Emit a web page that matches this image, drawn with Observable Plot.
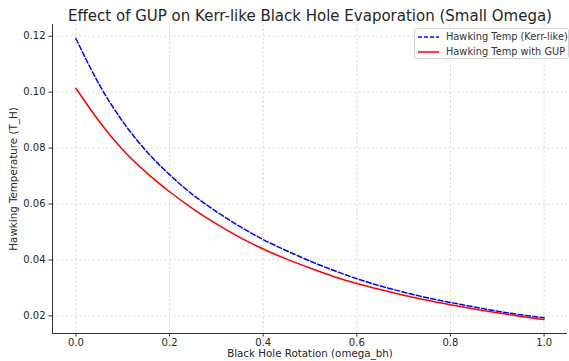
<!DOCTYPE html>
<html>
<head>
<meta charset="utf-8">
<script src="https://cdn.jsdelivr.net/npm/d3@7"></script>
<script src="https://cdn.jsdelivr.net/npm/@observablehq/plot@0.6"></script>
<style>
  html, body { margin: 0; padding: 0; background: white; }
  #wrap { position: relative; width: 569px; height: 361px; overflow: hidden; }
  #legend { position: absolute; left: 414px; top: 28px; width: 153px; height: 29px;
    border: 1px solid #d3d3d3; border-radius: 3px; background: rgba(255,255,255,0.85);
    font-family: "DejaVu Sans"; font-size: 9.8px; color: #333; }
  .row { position: absolute; left: 3px; height: 13px; display: flex; align-items: center; white-space: nowrap; }
  .row svg { margin-right: 7px; }
</style>
</head>
<body>
<div id="wrap"></div>
<script>
const titleText = "Effect of GUP on Kerr-like Black Hole Evaporation (Small Omega)";
const xLabel = "Black Hole Rotation (omega_bh)";
const yLabel = "Hawking Temperature (T_H)";
const seriesNames = ["Hawking Temp (Kerr-like)", "Hawking Temp with GUP"];
const seriesColors = ["#0000ff", "#ff0000"];

const omega = [0, 0.05, 0.1, 0.15, 0.2, 0.25, 0.3, 0.35, 0.4, 0.45, 0.5, 0.55, 0.6, 0.65, 0.7, 0.75, 0.8, 0.85, 0.9, 0.95, 1.0];
const tKerr = [0.1192, 0.1027, 0.0895, 0.0790, 0.0705, 0.0633, 0.0573, 0.0520, 0.0473, 0.0433, 0.0396, 0.0363, 0.0333, 0.0307, 0.0285, 0.0265, 0.0248, 0.0232, 0.0217, 0.0204, 0.0193];
const tGup  = [0.1014, 0.0895, 0.0794, 0.0713, 0.0644, 0.0583, 0.0529, 0.0481, 0.0439, 0.0403, 0.0371, 0.0341, 0.0316, 0.0294, 0.0274, 0.0256, 0.0240, 0.0225, 0.0211, 0.0198, 0.0187];

const xTicks = [0, 0.2, 0.4, 0.6, 0.8, 1.0];
const yTicks = [0.02, 0.04, 0.06, 0.08, 0.10, 0.12];
const xDomain = [-0.05, 1.05];
const yDomain = [0.0137, 0.1242];

const kerrData = omega.map((w, i) => ({w, t: tKerr[i]}));
const gupData = omega.map((w, i) => ({w, t: tGup[i]}));

const gridStyle = {stroke: "#c8c8c8", strokeOpacity: 0.8, strokeWidth: 0.8, strokeDasharray: "2.5,2"};

const chart = Plot.plot({
  width: 569,
  height: 361,
  marginTop: 24,
  marginBottom: 28,
  marginLeft: 52,
  marginRight: 2,
  style: {fontFamily: "DejaVu Sans", fontSize: "10px", color: "#262626", background: "white"},
  x: {domain: xDomain},
  y: {domain: yDomain},
  marks: [
    Plot.gridX(xTicks, gridStyle),
    Plot.gridY(yTicks, gridStyle),
    Plot.axisX(xTicks, {tickSize: 3.5, tickPadding: 1.5, tickFormat: d3.format(".1f"), label: null, fontSize: 10, stroke: "#333"}),
    Plot.axisY(yTicks, {tickSize: 3.5, tickPadding: 3.5, tickFormat: d3.format(".2f"), label: null, fontSize: 10, stroke: "#333"}),
    Plot.ruleX([xDomain[0]], {stroke: "#333", strokeWidth: 1}),
    Plot.ruleY([yDomain[0]], {stroke: "#333", strokeWidth: 1}),
    Plot.line(kerrData, {x: "w", y: "t", stroke: seriesColors[0], strokeWidth: 1.5, strokeDasharray: "5,2.4", curve: "monotone-x"}),
    Plot.line(gupData, {x: "w", y: "t", stroke: seriesColors[1], strokeWidth: 1.5, curve: "monotone-x"}),
    Plot.text([titleText], {frameAnchor: "top", dy: -14.5, fontSize: 15, fill: "#262626"}),
    Plot.text([xLabel], {frameAnchor: "bottom", dy: 23.5, fontSize: 10.3, fill: "#262626"}),
    Plot.text([yLabel], {frameAnchor: "left", textAnchor: "middle", dx: -39, rotate: -90, fontSize: 10.3, fill: "#262626"})
  ]
});

const wrap = document.getElementById("wrap");
wrap.appendChild(chart);

const legend = document.createElement("div");
legend.id = "legend";
seriesNames.forEach((name, i) => {
  const row = document.createElement("div");
  row.className = "row";
  row.style.top = (i === 0 ? 1 : 16) + "px";
  const dash = i === 0 ? "4,2" : "none";
  row.innerHTML = `<svg width="21" height="6"><line x1="0" y1="3" x2="21" y2="3" stroke="${seriesColors[i]}" stroke-width="1.5" stroke-dasharray="${dash}"/></svg><span>${name}</span>`;
  legend.appendChild(row);
});
wrap.appendChild(legend);
</script>
</body>
</html>
